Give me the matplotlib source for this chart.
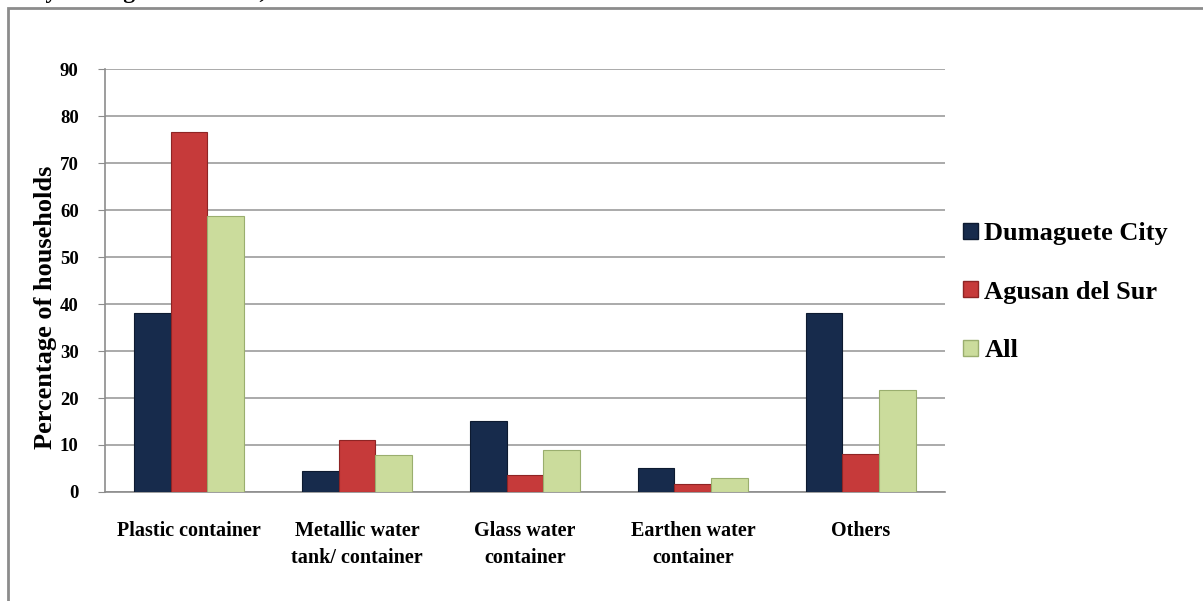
import matplotlib.pyplot as plt
import numpy as np
from matplotlib.patches import Patch, Rectangle

# chart data
categories = ["Plastic container", "Metallic water\ntank/ container", "Glass water\ncontainer",
              "Earthen water\ncontainer", "Others"]
series_names = ["Dumaguete City", "Agusan del Sur", "All"]
dumaguete = [38.0, 4.5, 15.2, 5.1, 38.0]
agusan = [76.7, 11.1, 3.6, 1.7, 8.0]
all_hh = [58.7, 7.9, 8.9, 3.0, 21.7]
y_ticks = [0, 10, 20, 30, 40, 50, 60, 70, 80, 90]

colors = ["#172b4c", "#c63a3a", "#cbdc9c"]
edges = ["#0d1a30", "#8e2424", "#9aae6e"]

plt.rcParams['font.family'] = ['Liberation Serif', 'DejaVu Serif']
plt.rcParams['font.weight'] = 'bold'

fig = plt.figure(figsize=(12.03, 6.01), dpi=100)
ax = fig.add_axes([0.0873, 0.1814, 0.6982, 0.7036])

# outer frame of the chart area
fig.patches.append(Rectangle((8 / 1203, -0.05), 1.2, 1 - 8 / 601 + 0.05, transform=fig.transFigure,
                             fill=False, edgecolor="#8c8c8c", linewidth=2))

# title cut off at the top
fig.text(0.012, 1.012, "City and Agusan del Sur, 2009", fontsize=17, fontweight='bold',
         va='center', ha='left')

x = np.arange(len(categories))
w = 0.22
for i, (vals, name) in enumerate(zip([dumaguete, agusan, all_hh], series_names)):
    ax.bar(x + (i - 1) * w, vals, width=w, color=colors[i], edgecolor=edges[i],
           linewidth=0.8, label=name, zorder=3)

ax.set_xlim(-0.5, len(categories) - 0.5)
ax.set_ylim(0, 90)
ax.set_yticks(y_ticks)
ax.set_yticklabels([str(t) for t in y_ticks], fontsize=13.5, fontweight='bold')
ax.set_xticks(x)
ax.set_xticklabels(categories, fontsize=14.5, fontweight='bold', linespacing=1.45)
ax.tick_params(axis='x', length=0, pad=21)
ax.tick_params(axis='y', length=5, color="#8c8c8c", pad=14)
ax.yaxis.grid(True, color="#9c9c9c", linewidth=1.2, zorder=0)
ax.set_axisbelow(True)
for s in ['top', 'right']:
    ax.spines[s].set_visible(False)
for s in ['left', 'bottom']:
    ax.spines[s].set_color("#8c8c8c")
    ax.spines[s].set_linewidth(1.2)

ax.set_ylabel("Percentage of households", fontsize=19, fontweight='bold')
ax.yaxis.set_label_coords(-0.057, 0.437)

handles = [Patch(facecolor=colors[i], edgecolor=edges[i]) for i in range(3)]
fig.legend(handles, series_names, loc='upper left', bbox_to_anchor=(0.781, 0.67),
           frameon=False, prop={'size': 19, 'weight': 'bold'}, labelspacing=1.35,
           handlelength=0.55, handleheight=0.55, handletextpad=0.25)

fig.savefig("out.png", dpi=100)
